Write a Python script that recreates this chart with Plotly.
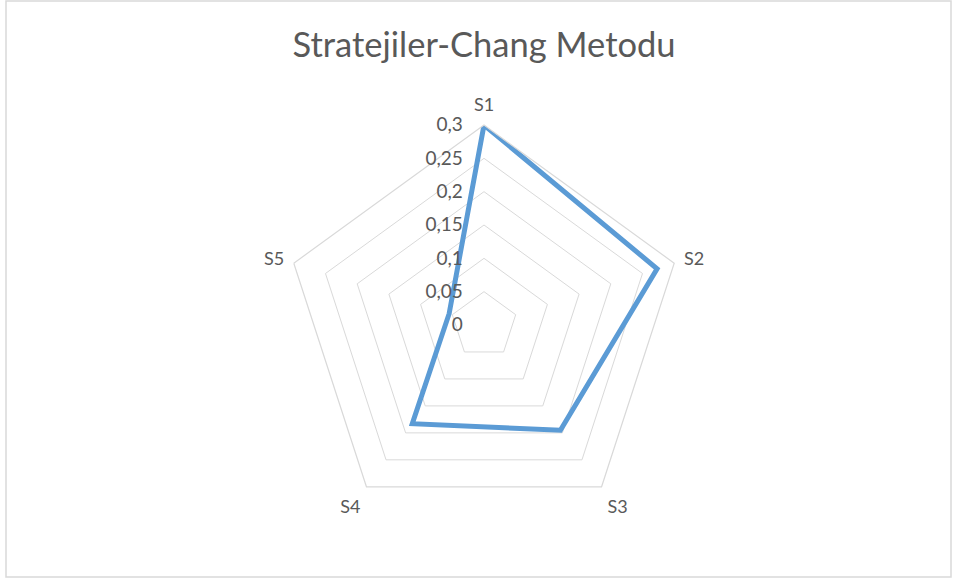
import plotly.graph_objects as go

categories = ["S1", "S2", "S3", "S4", "S5"]
values = [0.30, 0.273, 0.195, 0.183, 0.055]
tick_vals = [0, 0.05, 0.10, 0.15, 0.20, 0.25, 0.30]
tick_text = ["0", "0,05", "0,1", "0,15", "0,2", "0,25", "0,3"]
title_text = "Stratejiler-Chang Metodu"

W, H = 958, 578
cx, cy, R = 484, 325, 200
FONT = "Lato"
GREY = "#595959"
GRID = "#D9D9D9"

fig = go.Figure()
fig.add_trace(go.Scatterpolar(
    r=values + values[:1],
    theta=categories + categories[:1],
    mode="lines",
    line=dict(color="#5B9BD5", width=5),
    hoverinfo="skip",
    showlegend=False,
))

fig.update_layout(
    width=W, height=H,
    margin=dict(l=0, r=0, t=0, b=0),
    paper_bgcolor="white",
    plot_bgcolor="white",
    font=dict(family=FONT, color=GREY),
    title=dict(text=title_text, x=cx / W, xanchor="center",
               y=1 - 45 / H, yanchor="middle",
               font=dict(family=FONT, size=34.5, color=GREY)),
    polar=dict(
        domain=dict(x=[(cx - R) / W, (cx + R) / W],
                    y=[(H - cy - R) / H, (H - cy + R) / H]),
        bgcolor="white",
        gridshape="linear",
        radialaxis=dict(
            range=[0, 0.3], tickvals=tick_vals, ticktext=tick_text,
            angle=90, tickangle=90, side="counterclockwise",
            showline=False, ticks="outside", ticklen=14,
            tickcolor="rgba(0,0,0,0)", gridcolor=GRID, gridwidth=1.2,
            tickfont=dict(family=FONT, size=19, color=GREY),
        ),
        angularaxis=dict(
            rotation=90, direction="clockwise",
            showgrid=False, showline=True, linecolor=GRID, linewidth=1.2,
            ticks="outside", ticklen=6, tickcolor="rgba(0,0,0,0)",
            tickfont=dict(family=FONT, size=18, color=GREY),
        ),
    ),
    shapes=[dict(type="rect", xref="paper", yref="paper",
                 x0=6 / W, x1=951 / W, y0=1 / H, y1=1 - 1 / H,
                 line=dict(color=GRID, width=1.5), fillcolor="rgba(0,0,0,0)")],
)

fig.write_html("out.html", config={"displayModeBar": False},
               post_script="document.body.style.margin='0';")
